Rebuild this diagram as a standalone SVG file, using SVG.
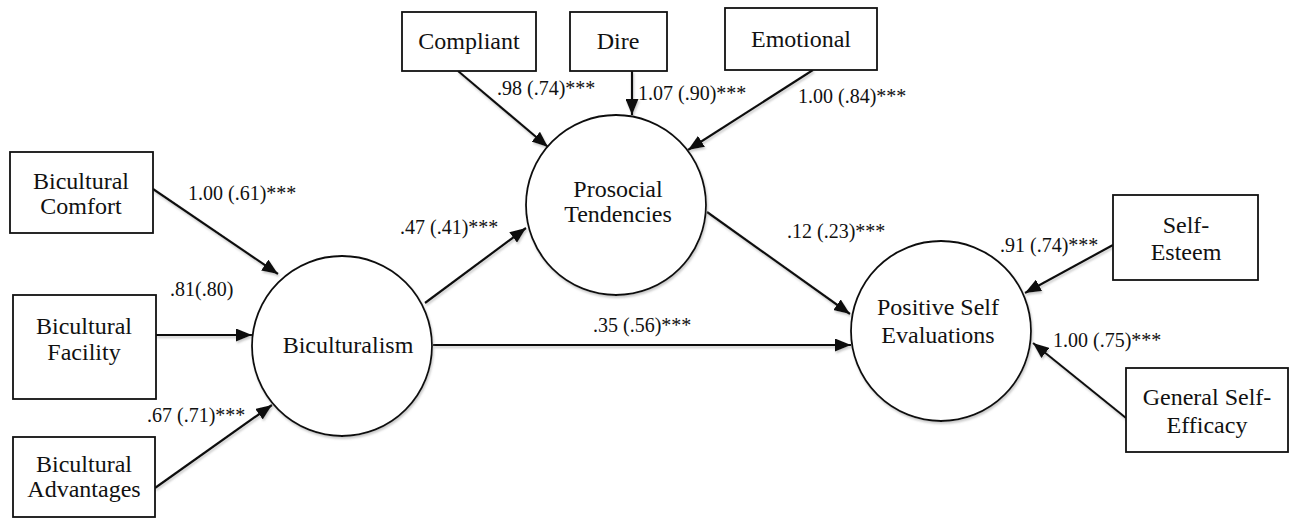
<svg xmlns="http://www.w3.org/2000/svg" width="1292" height="519" viewBox="0 0 1292 519">
<style>
.box{fill:#fff;stroke:#111;stroke-width:1.8}
.lat{fill:#fff;stroke:#111;stroke-width:1.8}
.t{font-family:"Liberation Serif","Times New Roman",serif;font-size:24px;fill:#111;text-anchor:middle}
.lbl{font-family:"Liberation Serif","Times New Roman",serif;font-size:20px;fill:#111}
.c{stroke:#111;stroke-width:2.2;fill:none;marker-end:url(#ah)}
</style>
<defs>
<marker id="ah" markerUnits="userSpaceOnUse" markerWidth="17" markerHeight="13" refX="16" refY="6.5" orient="auto">
<path d="M0,0 L16,6.5 L0,13 z" fill="#111"/>
</marker>
<filter id="sh" x="-10%" y="-10%" width="130%" height="130%">
<feDropShadow dx="1" dy="2" stdDeviation="0.8" flood-color="#888" flood-opacity="0.45"/>
</filter>
</defs>
<rect width="1292" height="519" fill="#fff"/>
<g id="connectors" filter="url(#sh)">
<line class="c" x1="153" y1="189" x2="278" y2="274"/>
<line class="c" x1="156" y1="335" x2="252" y2="335"/>
<line class="c" x1="155" y1="488" x2="272" y2="405"/>
<line class="c" x1="458" y1="71" x2="548" y2="147"/>
<line class="c" x1="632" y1="71" x2="632" y2="115"/>
<line class="c" x1="813" y1="70" x2="688" y2="150"/>
<line class="c" x1="425" y1="303" x2="526" y2="228"/>
<line class="c" x1="707" y1="212" x2="850" y2="314"/>
<line class="c" x1="433" y1="345" x2="851" y2="345"/>
<line class="c" x1="1113" y1="245" x2="1025" y2="293"/>
<line class="c" x1="1126" y1="418" x2="1033" y2="343"/>
</g>
<g id="labels">
<text class="lbl" x="188" y="200">1.00 (.61)***</text>
<text class="lbl" x="170" y="296">.81(.80)</text>
<text class="lbl" x="147" y="422">.67 (.71)***</text>
<text class="lbl" x="497" y="95">.98 (.74)***</text>
<text class="lbl" x="638" y="100">1.07 (.90)***</text>
<text class="lbl" x="798" y="103">1.00 (.84)***</text>
<text class="lbl" x="400" y="234">.47 (.41)***</text>
<text class="lbl" x="787" y="238">.12 (.23)***</text>
<text class="lbl" x="593" y="332">.35 (.56)***</text>
<text class="lbl" x="1000" y="252">.91 (.74)***</text>
<text class="lbl" x="1053" y="347">1.00 (.75)***</text>
</g>
<g id="n-comfort"><rect class="box" x="10" y="152" width="143" height="81"/><text class="t" x="81" y="189">Bicultural</text><text class="t" x="81" y="214">Comfort</text></g>
<g id="n-facility"><rect class="box" x="13" y="295" width="143" height="104"/><text class="t" x="84" y="334">Bicultural</text><text class="t" x="84" y="360">Facility</text></g>
<g id="n-advantages"><rect class="box" x="13" y="437" width="142" height="80"/><text class="t" x="84" y="472">Bicultural</text><text class="t" x="84" y="497">Advantages</text></g>
<g id="n-compliant"><rect class="box" x="402" y="12" width="134" height="59"/><text class="t" x="469" y="49">Compliant</text></g>
<g id="n-dire"><rect class="box" x="570" y="12" width="97" height="59"/><text class="t" x="618" y="49">Dire</text></g>
<g id="n-emotional"><rect class="box" x="725" y="8" width="152" height="62"/><text class="t" x="801" y="47">Emotional</text></g>
<g id="n-selfesteem"><rect class="box" x="1113" y="195" width="145" height="85"/><text class="t" x="1186" y="233">Self-</text><text class="t" x="1186" y="260">Esteem</text></g>
<g id="n-gse"><rect class="box" x="1126" y="368" width="162" height="84"/><text class="t" x="1207" y="405">General Self-</text><text class="t" x="1207" y="433">Efficacy</text></g>
<g id="n-biculturalism"><circle class="lat" cx="342" cy="346" r="90" filter="url(#sh)"/><text class="t" x="348" y="353">Biculturalism</text></g>
<g id="n-prosocial"><circle class="lat" cx="616" cy="205" r="90" filter="url(#sh)"/><text class="t" x="618" y="197">Prosocial</text><text class="t" x="618" y="222">Tendencies</text></g>
<g id="n-pse"><circle class="lat" cx="941" cy="331" r="90" filter="url(#sh)"/><text class="t" x="938" y="315">Positive Self</text><text class="t" x="938" y="343">Evaluations</text></g>
</svg>
